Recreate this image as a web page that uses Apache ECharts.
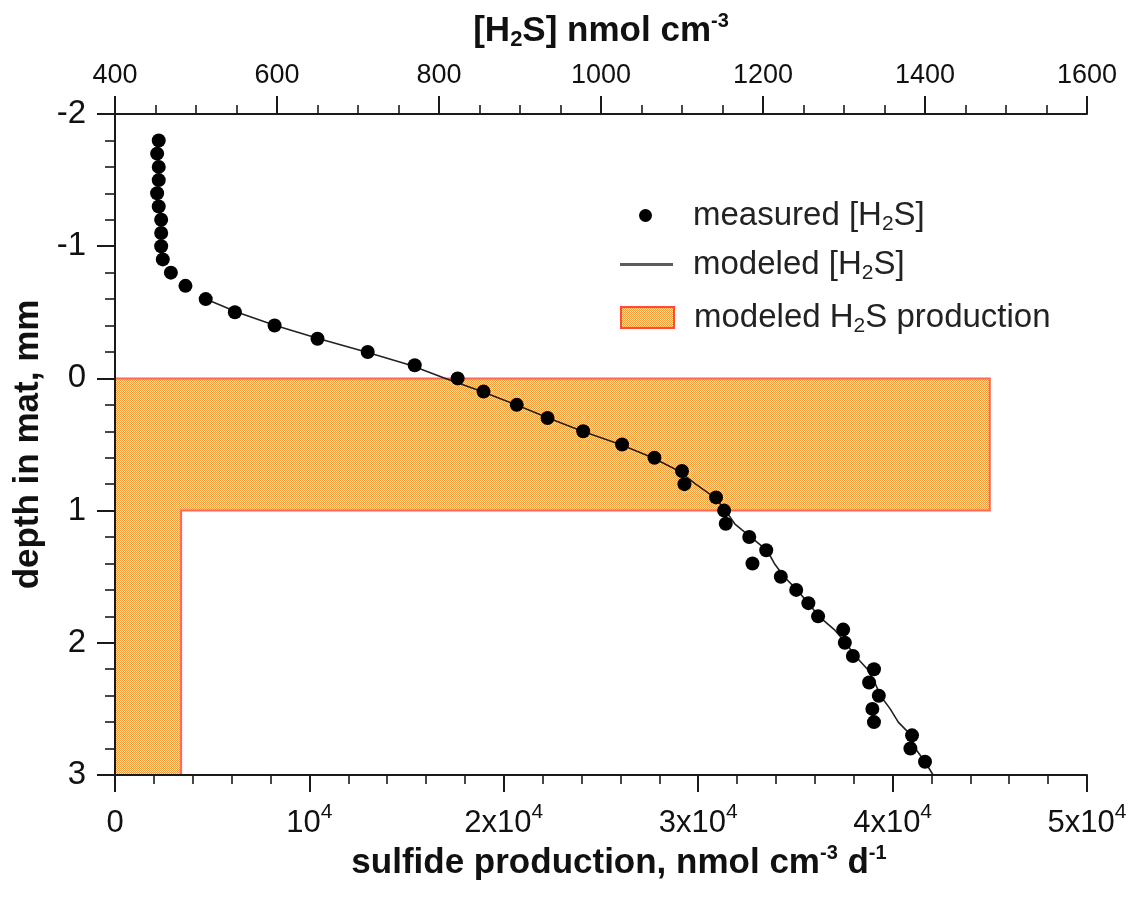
<!DOCTYPE html>
<html>
<head>
<meta charset="utf-8">
<title>Sulfide profile in the mat</title>
<script src="https://cdn.jsdelivr.net/npm/echarts@6/dist/echarts.min.js"></script>
<style>
  html, body { margin: 0; padding: 0; background: #ffffff; }
  #chart { width: 1138px; height: 900px; }
</style>
</head>
<body>
<div id="chart"></div>
<script>
// Measured H2S microprofile: depth (mm, negative = above the mat surface) and concentration (nmol cm-3)
const measuredDepth = [
  -1.8, -1.7, -1.6, -1.5, -1.4, -1.3, -1.2, -1.1, -1.0, -0.9,
  -0.8, -0.7, -0.6, -0.5, -0.4, -0.3, -0.2, -0.1, 0.0, 0.1,
  0.2, 0.3, 0.4, 0.5, 0.6, 0.7, 0.8, 0.9, 1.0, 1.1,
  1.2, 1.3, 1.4, 1.5, 1.6, 1.7, 1.8, 1.9, 2.0, 2.1,
  2.2, 2.3, 2.4, 2.5, 2.6, 2.7, 2.8, 2.9
];
const measuredH2S = [
  454, 452, 454, 454, 452, 454, 457, 457, 457, 459,
  469, 487, 512, 548, 597, 650, 712, 770, 823, 855,
  896, 934, 978, 1026, 1066, 1100, 1103, 1142, 1152, 1154,
  1183, 1204, 1187, 1222, 1241, 1256, 1268, 1299, 1301, 1311,
  1337, 1331, 1343, 1335, 1337, 1384, 1382, 1400
];

// Diffusion-reaction model output
const modeledDepth = [
  -0.6, -0.5, -0.4, -0.3, -0.2, -0.1, 0.0, 0.1, 0.2, 0.3,
  0.4, 0.5, 0.6, 0.7, 0.8, 0.9, 1.0, 1.1, 1.2, 1.3,
  1.4, 1.5, 1.6, 1.7, 1.8, 1.9, 2.0, 2.1, 2.2, 2.3,
  2.4, 2.5, 2.6, 2.7, 2.8, 2.9, 3.0
];
const modeledH2S = [
  512, 551, 598, 652, 710, 765, 808, 853, 895, 935,
  977, 1024, 1064, 1096, 1117, 1140, 1154, 1165, 1185, 1205,
  1214, 1226, 1242, 1256, 1269, 1288, 1302, 1314, 1329, 1338,
  1345, 1357, 1367, 1383, 1388, 1400, 1410
];

// Modeled sulfide production zones (mm) and rates (nmol cm-3 d-1)
const productionTop = [0, 1];
const productionBottom = [1, 3];
const productionRate = [45000, 3400];

// Tick labels of the production axis: mantissa part and exponent
const productionTickLabels = [['0', ''], ['10', '4'], ['2x10', '4'], ['3x10', '4'], ['4x10', '4'], ['5x10', '4']];
// Tick labels of the concentration axis
const h2sTickLabels = ['400', '600', '800', '1000', '1200', '1400', '1600'];

const FONT = '"Liberation Sans", Arial, Helvetica, sans-serif';
const INK = '#111111';
const AXIS = '#1a1a1a';

// Fine orange dither used for the production area
function ditherPattern() {
  const c = document.createElement('canvas');
  c.width = 2; c.height = 2;
  const g = c.getContext('2d');
  g.fillStyle = '#fde0bc';
  g.fillRect(0, 0, 2, 2);
  g.fillStyle = '#f69a3a';
  g.fillRect(0, 0, 1, 1);
  g.fillRect(1, 1, 1, 1);
  return c;
}
const orangeFill = { image: ditherPattern(), repeat: 'repeat' };
const orangeEdge = '#ff6655';

const chart = echarts.init(document.getElementById('chart'), null, { renderer: 'canvas' });

const titleRich = {
  t: { fontFamily: FONT, fontSize: 35, fontWeight: 'bold', color: INK, lineHeight: 40 },
  s: { fontFamily: FONT, fontSize: 22, fontWeight: 'bold', color: INK, lineHeight: 22, verticalAlign: 'bottom' },
  p: { fontFamily: FONT, fontSize: 20, fontWeight: 'bold', color: INK, lineHeight: 20, verticalAlign: 'top' }
};
const legendRich = {
  n: { fontFamily: FONT, fontSize: 33, color: '#222', lineHeight: 38 },
  s: { fontFamily: FONT, fontSize: 21, color: '#222', lineHeight: 22, verticalAlign: 'bottom' }
};
function legendText(name) {
  if (name === 'measured [H2S]') return '{n|measured [H}{s|2}{n|S]}';
  if (name === 'modeled [H2S]') return '{n|modeled [H}{s|2}{n|S]}';
  return '{n|modeled H}{s|2}{n|S production}';
}

const tickCommon = (len) => ({ show: true, length: len, lineStyle: { color: AXIS, width: 2 } });
const minorCommon = (n, len) => ({ show: true, splitNumber: n, length: len, lineStyle: { color: AXIS, width: 1.6 } });

const option = {
  animation: false,
  backgroundColor: '#ffffff',
  grid: { left: 115, right: 51, top: 114, bottom: 125, containLabel: false },
  xAxis: [
    {
      type: 'value',
      position: 'bottom',
      min: 0, max: 50000, interval: 10000,
      z: 10,
      name: '{t|sulfide production, nmol cm}{p|-3}{t| d}{p|-1}',
      nameLocation: 'middle',
      nameGap: 53,
      nameTextStyle: { rich: titleRich, padding: [0, 0, 0, 36] },
      axisLine: { show: true, onZero: false, lineStyle: { color: AXIS, width: 2 } },
      axisTick: tickCommon(17),
      minorTick: minorCommon(5, 9),
      splitLine: { show: false },
      minorSplitLine: { show: false },
      axisLabel: {
        margin: 27,
        formatter: function (v) {
          const parts = productionTickLabels[Math.round(v / 10000)];
          return parts[1] ? '{n|' + parts[0] + '}{p|' + parts[1] + '}' : '{n|' + parts[0] + '}';
        },
        rich: {
          n: { fontFamily: FONT, fontSize: 31, color: INK, lineHeight: 42 },
          p: { fontFamily: FONT, fontSize: 21, color: INK, lineHeight: 22, verticalAlign: 'top' }
        }
      }
    },
    {
      type: 'value',
      position: 'top',
      min: 400, max: 1600, interval: 200,
      z: 10,
      name: '{t|[H}{s|2}{t|S] nmol cm}{p|-3}',
      nameLocation: 'middle',
      nameGap: 63,
      nameTextStyle: { rich: titleRich },
      axisLine: { show: true, onZero: false, lineStyle: { color: AXIS, width: 2 } },
      axisTick: tickCommon(18),
      minorTick: minorCommon(4, 9),
      splitLine: { show: false },
      minorSplitLine: { show: false },
      axisLabel: {
        margin: 25, fontFamily: FONT, fontSize: 27, color: INK,
        formatter: function (v) { return h2sTickLabels[Math.round((v - 400) / 200)]; }
      }
    }
  ],
  yAxis: {
    type: 'value',
    inverse: true,
    min: -2, max: 3, interval: 1,
    z: 10,
    name: 'depth in mat, mm',
    nameLocation: 'middle',
    nameRotate: 90,
    nameGap: 68,
    nameTextStyle: { fontFamily: FONT, fontSize: 35, fontWeight: 'bold', color: INK },
    axisLine: { show: true, onZero: false, lineStyle: { color: AXIS, width: 2 } },
    axisTick: tickCommon(18),
    minorTick: minorCommon(5, 10),
    splitLine: { show: false },
    minorSplitLine: { show: false },
    axisLabel: { margin: 29, fontFamily: FONT, fontSize: 33, color: INK }
  },
  legend: [
    {
      left: 639, top: 199, padding: 0,
      itemWidth: 13, itemHeight: 13,
      data: [{ name: 'measured [H2S]', icon: 'circle', itemStyle: { color: '#000', opacity: 1 } }],
      formatter: legendText,
      textStyle: { rich: legendRich, padding: [0, 0, 0, 36] },
      selectedMode: false
    },
    {
      left: 620, top: 248, padding: 0,
      itemWidth: 53, itemHeight: 3,
      data: [{ name: 'modeled [H2S]', icon: 'rect', itemStyle: { color: '#5c5c5c' } }],
      formatter: legendText,
      textStyle: { rich: legendRich, padding: [0, 0, 0, 15] },
      selectedMode: false
    },
    {
      left: 620, top: 301, padding: 0,
      itemWidth: 53, itemHeight: 21,
      data: [{ name: 'modeled H2S production', icon: 'rect',
               itemStyle: { color: orangeFill, borderColor: '#ff4a3a', borderWidth: 2 } }],
      formatter: legendText,
      textStyle: { rich: legendRich, padding: [0, 0, 0, 15] },
      selectedMode: false
    }
  ],
  series: [
    {
      name: 'modeled H2S production',
      type: 'custom',
      xAxisIndex: 0,
      yAxisIndex: 0,
      z: 1,
      itemStyle: { color: orangeFill },
      data: productionRate.map((r, i) => [r, productionTop[i], productionBottom[i]]),
      encode: { x: 0, y: [1, 2] },
      renderItem: function (params, api) {
        if (params.dataIndex !== 0) return null;
        // step profile: top edge, then down each zone at its rate
        const verts = [[0, productionTop[0]]];
        productionRate.forEach((r, i) => {
          verts.push([r, productionTop[i]]);
          verts.push([r, productionBottom[i]]);
        });
        const outline = verts.map((v) => api.coord(v));
        const area = outline.concat([api.coord([0, productionBottom[productionBottom.length - 1]])]);
        return {
          type: 'group',
          children: [
            { type: 'polygon', shape: { points: area }, style: { fill: orangeFill, stroke: null } },
            { type: 'polyline', shape: { points: outline }, style: { fill: null, stroke: orangeEdge, lineWidth: 2 } }
          ]
        };
      }
    },
    {
      name: 'modeled [H2S]',
      type: 'line',
      xAxisIndex: 1,
      yAxisIndex: 0,
      z: 3,
      symbol: 'none',
      showSymbol: false,
      lineStyle: { color: '#222222', width: 1.6 },
      itemStyle: { color: '#5c5c5c' },
      data: modeledDepth.map((d, i) => [modeledH2S[i], d])
    },
    {
      name: 'measured [H2S]',
      type: 'scatter',
      xAxisIndex: 1,
      yAxisIndex: 0,
      z: 4,
      symbol: 'circle',
      symbolSize: 14,
      itemStyle: { color: '#000000', opacity: 1 },
      data: measuredDepth.map((d, i) => [measuredH2S[i], d])
    }
  ]
};

chart.setOption(option);
</script>
</body>
</html>
